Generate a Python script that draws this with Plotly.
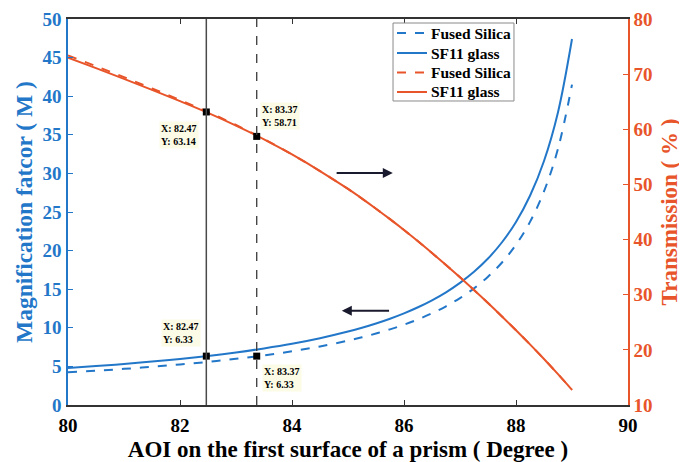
import plotly.graph_objects as go

# ---- data ----
aoi = [80, 80.5, 81, 81.5, 82, 82.5, 83, 83.5, 84, 84.5, 85, 85.25, 85.5, 85.75,
       86, 86.25, 86.5, 86.75, 87, 87.25, 87.5, 87.75, 88, 88.25, 88.5, 88.75, 89]
mag_sf11 = [4.80, 5.04, 5.32, 5.63, 5.97, 6.36, 6.81, 7.33, 7.93, 8.65, 9.51, 10.01,
            10.56, 11.18, 11.87, 12.66, 13.56, 14.60, 15.82, 17.25, 18.97, 21.08,
            23.71, 27.10, 31.61, 37.93, 47.41]
mag_fs = [4.23, 4.44, 4.68, 4.95, 5.25, 5.59, 5.98, 6.43, 6.96, 7.59, 8.34, 8.77,
          9.26, 9.80, 10.40, 11.09, 11.88, 12.79, 13.85, 15.11, 16.62, 18.46,
          20.76, 23.72, 27.67, 33.20, 41.50]
trans_sf11 = [73.0, 71.1, 69.15, 67.15, 65.1, 62.98, 60.68, 58.18, 55.43, 52.43,
              49.18, 47.43, 45.6, 43.7, 41.73, 39.68, 37.56, 35.39, 33.15, 30.85,
              28.49, 26.06, 23.56, 20.99, 18.34, 15.59, 12.74]
trans_fs = [73.4, 71.45, 69.45, 67.4, 65.3, 63.13, 60.78, 58.23, 55.45, 52.43,
            49.18, 47.43, 45.6, 43.7, 41.73, 39.68, 37.56, 35.39, 33.15, 30.85,
            28.49, 26.06, 23.56, 20.99, 18.34, 15.59, 12.74]

tip_x = [82.47, 83.37]
tip_mag = [6.33, 6.33]
tip_trans = [63.14, 58.71]

legend_labels = ["Fused Silica", "SF11 glass", "Fused Silica", "SF11 glass"]

x_ticks = [80, 82, 84, 86, 88, 90]
m_ticks = [0, 5, 10, 15, 20, 25, 30, 35, 40, 45, 50]
t_ticks = [10, 20, 30, 40, 50, 60, 70, 80]

BLUE = "#2377c9"
ORANGE = "#e8552a"
SERIF = "Liberation Serif"

series = [
    dict(y=mag_fs, color=BLUE, dash="dash", axis="y"),
    dict(y=mag_sf11, color=BLUE, dash="solid", axis="y"),
    dict(y=trans_fs, color=ORANGE, dash="dash", axis="y2"),
    dict(y=trans_sf11, color=ORANGE, dash="solid", axis="y2"),
]

fig = go.Figure()
for s, name in zip(series, legend_labels):
    fig.add_trace(go.Scatter(x=aoi, y=s["y"], name=name, mode="lines", yaxis=s["axis"],
                             showlegend=False,
                             line=dict(color=s["color"], width=2, dash=s["dash"],
                                       shape="spline", smoothing=1)))

# data-tip markers
fig.add_trace(go.Scatter(x=tip_x, y=tip_mag, mode="markers", showlegend=False,
                         marker=dict(symbol="square", size=7, color="black")))
fig.add_trace(go.Scatter(x=tip_x, y=tip_trans, mode="markers", showlegend=False, yaxis="y2",
                         marker=dict(symbol="square", size=7, color="black")))

# vertical lines
fig.add_shape(type="line", xref="x", yref="paper", x0=tip_x[0], x1=tip_x[0], y0=0, y1=1,
              line=dict(color="#4a4a4a", width=1.5))
fig.add_shape(type="line", xref="x", yref="paper", x0=tip_x[1], x1=tip_x[1], y0=0, y1=1,
              line=dict(color="#3a3a3a", width=1.3, dash="dash"))

tipfont = dict(family=SERIF, size=10, color="black", weight="bold")
tipbg = "#fbfbe6"
def tip(xv, yv, yref, xanchor, yanchor, xs, ys):
    fig.add_annotation(x=xv, y=yv, xref="x", yref=yref, showarrow=False,
                       text=f"X: {xv:.2f}<br>Y: {yv:.2f}", align="left",
                       xanchor=xanchor, yanchor=yanchor, xshift=xs, yshift=ys,
                       font=tipfont, bgcolor=tipbg, borderpad=1)

tip(tip_x[0], tip_trans[0], "y2", "right", "top", -7, -9)
tip(tip_x[1], tip_trans[1], "y2", "left", "bottom", 3, 6)
tip(tip_x[0], tip_mag[0], "y", "right", "bottom", -5, 9)
tip(tip_x[1], tip_mag[1], "y", "left", "top", 5, -8)

# arrows
fig.add_annotation(x=85.8, y=30.05, ax=84.77, ay=30.05, xref="x", yref="y", axref="x", ayref="y",
                   text="", showarrow=True, arrowhead=2, arrowsize=1, arrowwidth=2, arrowcolor="#1a1a2e")
fig.add_annotation(x=84.89, y=12.2, ax=85.76, ay=12.2, xref="x", yref="y", axref="x", ayref="y",
                   text="", showarrow=True, arrowhead=2, arrowsize=1, arrowwidth=2, arrowcolor="#1a1a2e")

# legend box (drawn in paper coordinates to mimic the compact MATLAB legend)
fig.add_shape(type="rect", xref="paper", yref="paper", x0=0.5804, x1=0.7964, y0=0.7876, y1=0.9896,
              line=dict(color="#8a8a8a", width=1), fillcolor="white", layer="above")
row_y = [0.9637, 0.9119, 0.8614, 0.8109]
for s, name, yy in zip(series, legend_labels, row_y):
    fig.add_shape(type="line", xref="paper", yref="paper", x0=0.5875, x1=0.6411, y0=yy, y1=yy,
                  line=dict(color=s["color"], width=2, dash=s["dash"]), layer="above")
    fig.add_annotation(x=0.6446, y=yy, xref="paper", yref="paper", text=name, showarrow=False,
                       xanchor="left", yanchor="middle",
                       font=dict(family=SERIF, size=15.5, color="black", weight="bold"))

fig.update_layout(
    width=679, height=454,
    margin=dict(l=60, r=59, t=11, b=57),
    paper_bgcolor="white", plot_bgcolor="white",
    font=dict(family=SERIF, weight="bold"),
    showlegend=False,
    xaxis=dict(range=[80, 90], tickvals=x_ticks, ticks="inside", ticklen=5, automargin=False,
               tickcolor="#333333", linecolor="#333333", linewidth=1.5, mirror="ticks",
               showgrid=False, zeroline=False, ticklabelstandoff=2,
               tickfont=dict(family=SERIF, size=19, color="black", weight="bold"),
               title=dict(text="AOI on the first surface of a prism ( Degree )", standoff=13,
                          font=dict(family=SERIF, size=23, color="black", weight="bold"))),
    yaxis=dict(range=[0, 50], tickvals=m_ticks, ticks="inside", ticklen=5, automargin=False,
               tickcolor=BLUE, linecolor=BLUE, linewidth=1.5, showgrid=False, zeroline=False,
               ticklabelstandoff=1,
               tickfont=dict(family=SERIF, size=19, color=BLUE, weight="bold"),
               title=dict(text="Magnification fatcor ( M )", standoff=3,
                          font=dict(family=SERIF, size=23.5, color=BLUE, weight="bold"))),
    yaxis2=dict(range=[10, 80], tickvals=t_ticks, overlaying="y", side="right", automargin=False,
                ticks="inside", ticklen=5, tickcolor=ORANGE, linecolor=ORANGE, linewidth=1.5,
                showgrid=False, zeroline=False, ticklabelstandoff=0,
                tickfont=dict(family=SERIF, size=19, color=ORANGE, weight="bold"),
                title=dict(text="Transmission ( % )", standoff=9,
                           font=dict(family=SERIF, size=23, color=ORANGE, weight="bold"))),
)

fig.write_html("out.html")
